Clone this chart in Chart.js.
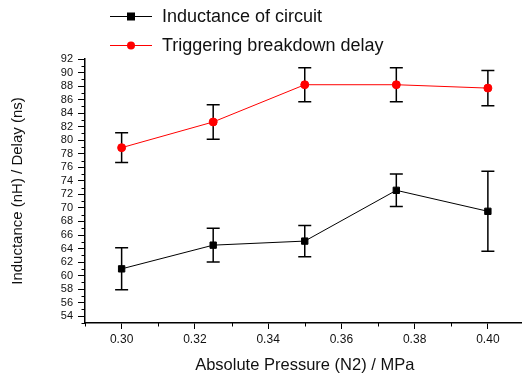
<!DOCTYPE html>
<html><head><meta charset="utf-8">
<script src="https://cdn.jsdelivr.net/npm/chart.js@4.4.1/dist/chart.umd.min.js"></script>
<style>html,body{margin:0;padding:0;background:#fff;overflow:hidden}#wrap{width:522px;height:375px;overflow:hidden}</style>
</head><body><div id="wrap"><canvas id="c" width="530" height="375" style="width:530px;height:375px"></canvas></div>
<script>
const pressures = [0.30, 0.325, 0.35, 0.375, 0.40];
const inductance = [61.0, 64.5, 65.1, 72.6, 69.5];
const inductanceErr = [3.1, 2.5, 2.3, 2.4, 5.9];
const delay = [78.9, 82.7, 88.2, 88.2, 87.7];
const delayErr = [2.2, 2.55, 2.5, 2.5, 2.6];
const seriesLabels = ['Inductance of circuit', 'Triggering breakdown delay'];
const xTitle = 'Absolute Pressure (N2) / MPa';
const yTitle = 'Inductance (nH) / Delay (ns)';

const FONT = '"Liberation Sans", Arial, sans-serif';
const toXY = (xs, ys) => xs.map((x, i) => ({x: x, y: ys[i]}));
const isMajorX = (v) => Math.round(v * 100) % 2 === 0;
const isMajorY = (v) => Math.round(v) % 2 === 0;

const errorBarPlugin = {
  id: 'errbars',
  beforeDatasetsDraw(chart) {
    const ctx = chart.ctx, xs = chart.scales.x, ys = chart.scales.y;
    const errs = [inductanceErr, delayErr];
    ctx.save();
    ctx.strokeStyle = '#000';
    ctx.lineWidth = 1.5;
    chart.data.datasets.forEach((ds, di) => {
      ds.data.forEach((p, i) => {
        const px = xs.getPixelForValue(p.x);
        const top = ys.getPixelForValue(p.y + errs[di][i]);
        const bot = ys.getPixelForValue(p.y - errs[di][i]);
        ctx.beginPath();
        ctx.moveTo(px, top); ctx.lineTo(px, bot);
        ctx.moveTo(px - 6.5, top); ctx.lineTo(px + 6.5, top);
        ctx.moveTo(px - 6.5, bot); ctx.lineTo(px + 6.5, bot);
        ctx.stroke();
      });
    });
    ctx.restore();
  }
};

const minorTickPlugin = {
  id: 'minorTicks',
  afterDraw(chart) {
    const ctx = chart.ctx, xs = chart.scales.x, ys = chart.scales.y;
    const ca = chart.chartArea;
    ctx.save();
    ctx.strokeStyle = '#000';
    ctx.lineWidth = 1;
    ctx.beginPath();
    xs.ticks.forEach(t => {
      if (!isMajorX(t.value)) {
        const px = Math.round(xs.getPixelForValue(t.value)) + 0.5;
        ctx.moveTo(px, ca.bottom); ctx.lineTo(px, ca.bottom + 3.5);
      }
    });
    ys.ticks.forEach(t => {
      if (!isMajorY(t.value)) {
        const py = Math.round(ys.getPixelForValue(t.value)) + 0.5;
        ctx.moveTo(ca.left, py); ctx.lineTo(ca.left - 3.5, py);
      }
    });
    ctx.stroke();
    ctx.restore();
  }
};

const legendPlugin = {
  id: 'customLegend',
  afterDraw(chart) {
    const ctx = chart.ctx;
    ctx.save();
    const rows = [16, 45];
    chart.data.datasets.forEach((ds, i) => {
      const y = rows[i];
      ctx.strokeStyle = ds.borderColor;
      ctx.lineWidth = 1;
      ctx.beginPath(); ctx.moveTo(110, y + 0.5); ctx.lineTo(152, y + 0.5); ctx.stroke();
      ctx.fillStyle = ds.pointBackgroundColor;
      if (ds.pointStyle === 'rect') {
        ctx.fillRect(127, y - 3.5, 8, 8);
      } else {
        ctx.beginPath(); ctx.arc(131, y + 0.5, 4, 0, Math.PI * 2); ctx.fill();
      }
      ctx.fillStyle = '#111';
      ctx.font = '18px ' + FONT;
      ctx.textBaseline = 'middle';
      ctx.fillText(ds.label, 162, y + 1);
    });
    ctx.restore();
  }
};

new Chart(document.getElementById('c'), {
  type: 'line',
  data: {
    datasets: [
      {label: seriesLabels[0], data: toXY(pressures, inductance), borderColor: '#000', backgroundColor: '#000',
       pointBackgroundColor: '#000', pointBorderColor: '#000', pointStyle: 'rect', pointRadius: 4.5, borderWidth: 1, tension: 0},
      {label: seriesLabels[1], data: toXY(pressures, delay), borderColor: '#ff0000', backgroundColor: '#ff0000',
       pointBackgroundColor: '#ff0000', pointBorderColor: '#ff0000', pointStyle: 'circle', pointRadius: 4, borderWidth: 1, tension: 0}
    ]
  },
  options: {
    responsive: false,
    animation: false,
    layout: {padding: {left: 0, top: 59, right: 0, bottom: 0}},
    plugins: {legend: {display: false}, tooltip: {enabled: false}},
    scales: {
      x: {
        type: 'linear', min: 0.29, max: 0.41,
        border: {color: '#000', width: 1.5},
        grid: {drawOnChartArea: false, tickLength: 6, color: '#000',
               tickColor: (c) => (c.tick && isMajorX(c.tick.value)) ? '#000' : 'rgba(0,0,0,0)'},
        ticks: {
          stepSize: 0.01, color: '#111', padding: 3, maxRotation: 0, autoSkip: false,
          font: {size: 12, family: FONT},
          callback: (v) => { const k = Math.round(v * 100); return (k % 2 === 0 && k >= 30 && k <= 40) ? (k / 100).toFixed(2) : ''; }
        },
        afterBuildTicks: (s) => { s.ticks = []; for (let k = 29; k <= 41; k++) s.ticks.push({value: k / 100}); },
        afterFit: (s) => { s.height = 52; },
        title: {display: true, text: xTitle, color: '#111', padding: {top: 5, bottom: 0},
          font: {size: 16.5, family: FONT}}
      },
      y: {
        min: 53, max: 92,
        border: {color: '#000', width: 1.5},
        grid: {drawOnChartArea: false, tickLength: 7, color: '#000',
               tickColor: (c) => (c.tick && isMajorY(c.tick.value)) ? '#000' : 'rgba(0,0,0,0)'},
        ticks: {
          stepSize: 1, color: '#111', padding: 5, autoSkip: false,
          font: {size: 11, family: FONT},
          callback: (v) => (isMajorY(v) && v >= 54) ? String(Math.round(v)) : ''
        },
        afterBuildTicks: (s) => { s.ticks = []; for (let k = 53; k <= 92; k++) s.ticks.push({value: k}); },
        afterFit: (s) => { s.width = 85; },
        title: {display: true, text: yTitle, color: '#111', padding: {top: 9, bottom: 0},
          font: {size: 15, family: FONT}}
      }
    }
  },
  plugins: [errorBarPlugin, minorTickPlugin, legendPlugin]
});
</script></body></html>
